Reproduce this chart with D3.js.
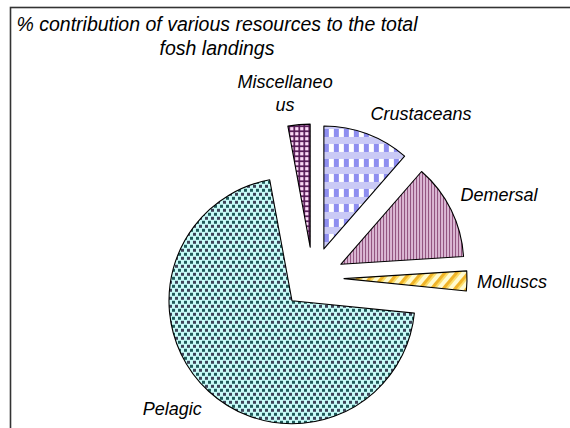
<!DOCTYPE html>
<html>
<head>
<meta charset="utf-8">
<script src="https://cdn.jsdelivr.net/npm/d3@7"></script>
<style>
  body { margin: 0; background: #fff; }
  text { font-family: "Liberation Sans", Arial, sans-serif; font-style: italic; fill: #000; }
</style>
</head>
<body>
<script>
const width = 570;
const height = 428;

// data
const categories = ["Crustaceans", "Demersal", "Molluscs", "Pelagic", "Miscellaneous"];
const shares = [11.4, 12.6, 2.6, 70.5, 2.9];
const labelLines = [["Crustaceans"], ["Demersal"], ["Molluscs"], ["Pelagic"], ["Miscellaneo", "us"]];
const titleLines = ["% contribution of various resources to the total", "fosh landings"];

const center = { x: 313, y: 278 };
const radius = 123;
const explode = 31;
const labelGap = 10;

const svg = d3.select("body").append("svg")
  .attr("width", width)
  .attr("height", height);

// fill patterns
const defs = svg.append("defs");

// crustaceans - plaid
const pCru = defs.append("pattern").attr("id", "p-cru")
  .attr("patternUnits", "userSpaceOnUse").attr("width", 10).attr("height", 15);
pCru.append("rect").attr("width", 10).attr("height", 15).attr("fill", "#cacaf6");
pCru.append("rect").attr("x", 0).attr("y", 0).attr("width", 5).attr("height", 8).attr("fill", "#8e8ef0");
pCru.append("rect").attr("x", 5).attr("y", 0).attr("width", 5).attr("height", 8).attr("fill", "#ffffff");

// demersal - vertical lines
const pDem = defs.append("pattern").attr("id", "p-dem")
  .attr("patternUnits", "userSpaceOnUse").attr("width", 3).attr("height", 3);
pDem.append("rect").attr("width", 3).attr("height", 3).attr("fill", "#f2d6ee");
pDem.append("rect").attr("width", 1.3).attr("height", 3).attr("fill", "#83406f");

// molluscs - wide diagonal
const pMol = defs.append("pattern").attr("id", "p-mol")
  .attr("patternUnits", "userSpaceOnUse").attr("width", 9).attr("height", 9)
  .attr("patternTransform", "rotate(40)");
pMol.append("rect").attr("width", 9).attr("height", 9).attr("fill", "#fffbd0");
pMol.append("rect").attr("width", 3).attr("height", 9).attr("fill", "#f0b428");
pMol.append("rect").attr("x", 3).attr("width", 2).attr("height", 9).attr("fill", "#fbdc68");

// pelagic - staggered dots
const pPel = defs.append("pattern").attr("id", "p-pel")
  .attr("patternUnits", "userSpaceOnUse").attr("width", 6).attr("height", 8);
pPel.append("rect").attr("width", 6).attr("height", 8).attr("fill", "#c8fbf8");
pPel.append("rect").attr("x", 0).attr("y", 0).attr("width", 3).attr("height", 3).attr("fill", "#1f5a5a");
pPel.append("rect").attr("x", 3).attr("y", 4).attr("width", 3).attr("height", 3).attr("fill", "#3c4358");

// misc - small grid
const pMis = defs.append("pattern").attr("id", "p-mis")
  .attr("patternUnits", "userSpaceOnUse").attr("width", 5).attr("height", 5);
pMis.append("rect").attr("width", 5).attr("height", 5).attr("fill", "#561a56");
pMis.append("rect").attr("width", 3.3).attr("height", 3.3).attr("fill", "#fbd8f6");

const fills = ["url(#p-cru)", "url(#p-dem)", "url(#p-mol)", "url(#p-pel)", "url(#p-mis)"];

// frame
svg.append("rect")
  .attr("x", 10.5).attr("y", 7.5)
  .attr("width", width + 50).attr("height", height + 50)
  .attr("fill", "none")
  .attr("stroke", "#333")
  .attr("stroke-width", 1.6);

// title
svg.append("g").selectAll("text")
  .data(titleLines)
  .enter()
  .append("text")
  .attr("x", 217)
  .attr("y", (d, i) => 30.5 + i * 24)
  .attr("text-anchor", "middle")
  .style("font-size", "19.5px")
  .text(d => d);

const pie = d3.pie().sort(null).value(d => d)(shares);
const arc = d3.arc().innerRadius(0).outerRadius(radius);

const chart = svg.append("g").attr("transform", `translate(${center.x},${center.y})`);

const mid = d => (d.startAngle + d.endAngle) / 2;

chart.selectAll("path")
  .data(pie)
  .enter()
  .append("path")
  .attr("transform", d => `translate(${Math.sin(mid(d)) * explode},${-Math.cos(mid(d)) * explode})`)
  .attr("d", arc)
  .attr("fill", (d, i) => fills[i])
  .attr("stroke", "#000")
  .attr("stroke-width", 1.1)
  .attr("stroke-linejoin", "round");

// labels placed beyond the slice edge, along bisector
const clamp = v => Math.max(-1, Math.min(1, v));
const lineH = 23;
const fontSize = 18;

pie.forEach((d, i) => {
  const a = mid(d);
  const r = radius + explode + labelGap;
  const px = Math.sin(a) * r;
  const py = -Math.cos(a) * r;
  const g = chart.append("g");
  const t = g.append("text").style("font-size", fontSize + "px").attr("text-anchor", "middle");
  labelLines[i].forEach((line, j) => {
    t.append("tspan").attr("x", 0).attr("y", j * lineH).text(line);
  });
  const bb = t.node().getBBox();
  const cx = px + clamp(Math.sin(a) * 3) * bb.width / 2;
  const cy = py - clamp(Math.cos(a) * 3) * bb.height / 2;
  g.attr("transform", `translate(${cx},${cy - (bb.y + bb.height / 2)})`);
});
</script>
</body>
</html>
